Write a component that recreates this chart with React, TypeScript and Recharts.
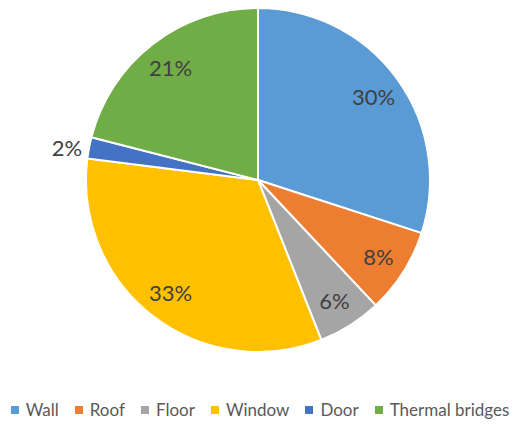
import React from "react";
import { PieChart, Pie, Cell, Legend } from "recharts";

const categories = ["Wall", "Roof", "Floor", "Window", "Door", "Thermal bridges"];
const values = [30, 8, 6, 33, 2, 21];
const colors = ["#5B9BD5", "#ED7D31", "#A5A5A5", "#FFC000", "#4472C4", "#70AD47"];

const data = categories.map((name, i) => ({ name, value: values[i] }));
const total = values.reduce((a, b) => a + b, 0);

const FONT = "Lato, 'Open Sans', sans-serif";
const RAD = Math.PI / 180;

const renderLabel = (props: any) => {
  const { cx, cy, midAngle, outerRadius, value } = props;
  const pct = Math.round((value / total) * 100);
  const small = pct < 4;
  if (small) {
    const ex = cx + outerRadius * Math.cos(-midAngle * RAD);
    const ey = cy + outerRadius * Math.sin(-midAngle * RAD);
    return (
      <text x={ex - 7} y={ey} textAnchor="end" dominantBaseline="central" fill="#404040" fontSize={22} fontFamily={FONT}>
        {pct}%
      </text>
    );
  }
  const r = outerRadius * 0.83;
  const x = cx + r * Math.cos(-midAngle * RAD);
  const y = cy + r * Math.sin(-midAngle * RAD);
  return (
    <text x={x} y={y} textAnchor="middle" dominantBaseline="central" fill="#404040" fontSize={22} fontFamily={FONT}>
      {pct}%
    </text>
  );
};

const renderLegend = () => (
  <div style={{ display: "flex", justifyContent: "center", whiteSpace: "nowrap", fontFamily: FONT, fontSize: 17, lineHeight: "22px", color: "#595959" }}>
    {categories.map((c, i) => (
      <span key={c} style={{ display: "inline-flex", alignItems: "center", flexShrink: 0, marginRight: i < categories.length - 1 ? 16 : 0 }}>
        <span style={{ width: 8, height: 8, background: colors[i], display: "inline-block", marginRight: 7 }} />
        {c}
      </span>
    ))}
  </div>
);

export default function App() {
  return (
    <div style={{ position: "absolute", left: 0, top: 0, background: "#fff" }}>
      <PieChart width={516} height={424} margin={{ top: 0, right: 0, bottom: 0, left: 0 }}>
        <Pie
          data={data}
          dataKey="value"
          nameKey="name"
          cx={258}
          cy={180}
          outerRadius={172}
          startAngle={90}
          endAngle={-270}
          stroke="#fff"
          strokeWidth={2}
          label={renderLabel}
          labelLine={false}
          isAnimationActive={false}
        >
          {data.map((d, i) => (
            <Cell key={d.name} fill={colors[i]} />
          ))}
        </Pie>
        <Legend content={renderLegend} wrapperStyle={{ top: 399, left: 2, width: 516 }} />
      </PieChart>
    </div>
  );
}
